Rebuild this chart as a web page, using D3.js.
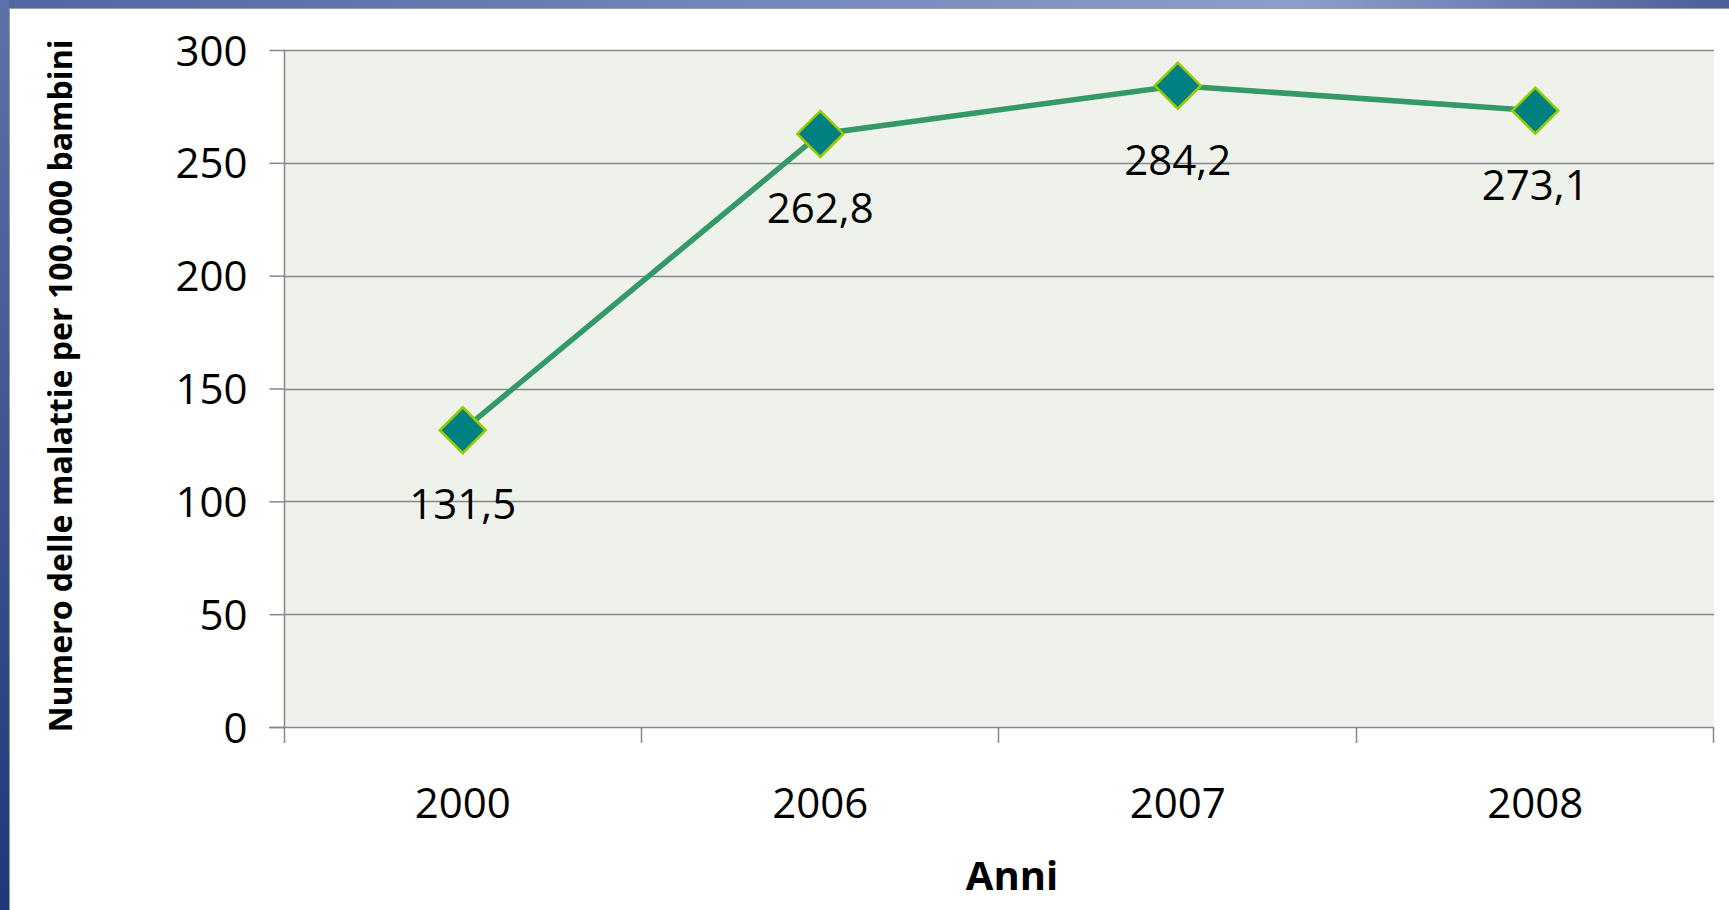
<!DOCTYPE html>
<html>
<head>
<meta charset="utf-8">
<script src="https://cdnjs.cloudflare.com/ajax/libs/d3/7.8.5/d3.min.js"></script>
<style>
  body { margin: 0; background: #fff; overflow: hidden; }
  text { font-family: "Open Sans", sans-serif; fill: #000; }
</style>
</head>
<body>
<script>
// data
var years = ["2000", "2006", "2007", "2008"];
var values = [131.5, 262.8, 284.2, 273.1];
var labels = ["131,5", "262,8", "284,2", "273,1"];
var yTicks = [0, 50, 100, 150, 200, 250, 300];

var width = 1729, height = 910;
var plot = { left: 284, right: 1714, top: 50, bottom: 727 };

var svg = d3.select("body").append("svg")
    .attr("width", width)
    .attr("height", height);

// slide frame gradients
var defs = svg.append("defs");
var gTop = defs.append("linearGradient").attr("id", "topbar")
    .attr("x1", "0").attr("x2", "1").attr("y1", "0").attr("y2", "0");
gTop.append("stop").attr("offset", "0").attr("stop-color", "#4f68a2");
gTop.append("stop").attr("offset", "0.75").attr("stop-color", "#8c9ecb");
gTop.append("stop").attr("offset", "1").attr("stop-color", "#4b5f98");

var gLeft = defs.append("linearGradient").attr("id", "leftbar")
    .attr("x1", "0").attr("x2", "0").attr("y1", "0").attr("y2", "1");
gLeft.append("stop").attr("offset", "0").attr("stop-color", "#5d73a8");
gLeft.append("stop").attr("offset", "1").attr("stop-color", "#1f3878");

svg.append("rect").attr("x", 0).attr("y", 0).attr("width", width).attr("height", 8)
    .attr("fill", "url(#topbar)");
svg.append("rect").attr("x", 0).attr("y", 0).attr("width", 9).attr("height", height)
    .attr("fill", "url(#leftbar)");
svg.append("line").attr("x1", 9).attr("x2", width).attr("y1", 8.5).attr("y2", 8.5)
    .attr("stroke", "#9a9a9a").attr("stroke-width", 1);
svg.append("line").attr("x1", 9.5).attr("x2", 9.5).attr("y1", 8).attr("y2", height)
    .attr("stroke", "#9a9a9a").attr("stroke-width", 1);

// scales
var x = d3.scaleBand().domain(years).range([plot.left, plot.right]);
var y = d3.scaleLinear().domain([0, 300]).range([plot.bottom, plot.top]);

// plot area background
svg.append("rect")
    .attr("x", plot.left).attr("y", plot.top)
    .attr("width", plot.right - plot.left).attr("height", plot.bottom - plot.top)
    .attr("fill", "#eff2ea");

// gridlines
svg.append("g").selectAll("line")
    .data(yTicks.slice(1))
    .enter().append("line")
    .attr("x1", plot.left).attr("x2", plot.right)
    .attr("y1", function(d) { return Math.round(y(d)) + 0.5; })
    .attr("y2", function(d) { return Math.round(y(d)) + 0.5; })
    .attr("stroke", "#878787").attr("stroke-width", 1.5);

// y axis
var yAxis = svg.append("g")
    .attr("transform", "translate(" + (plot.left + 0.5) + ",0)")
    .call(d3.axisLeft(y).tickValues(yTicks).tickSize(15).tickPadding(22));
yAxis.select(".domain").attr("stroke", "#878787").attr("stroke-width", 1.5)
    .attr("d", "M0," + plot.top + "V" + (plot.bottom + 16));
yAxis.selectAll(".tick line").attr("stroke", "#878787").attr("stroke-width", 1.5);
yAxis.selectAll(".tick text")
    .style("font-family", "'Open Sans', sans-serif")
    .style("font-size", "42px")
    .attr("dy", "0.36em")
    .attr("fill", "#000");

// x axis
var xAxis = svg.append("g")
    .attr("transform", "translate(0," + (plot.bottom + 0.5) + ")")
    .call(d3.axisBottom(x).tickSize(0).tickPadding(61));
xAxis.select(".domain").attr("stroke", "#878787").attr("stroke-width", 1.5)
    .attr("d", "M" + (plot.left - 15) + ",0H" + plot.right);
xAxis.selectAll(".tick text")
    .style("font-family", "'Open Sans', sans-serif")
    .style("font-size", "42px")
    .attr("fill", "#000");

// category separator ticks
var seps = years.map(function(d) { return x(d); }).concat([plot.right]);
svg.append("g").selectAll("line")
    .data(seps.slice(1))
    .enter().append("line")
    .attr("x1", function(d) { return Math.round(d) - 0.5; })
    .attr("x2", function(d) { return Math.round(d) - 0.5; })
    .attr("y1", plot.bottom).attr("y2", plot.bottom + 16)
    .attr("stroke", "#878787").attr("stroke-width", 1.5);

// line
var line = d3.line()
    .x(function(d, i) { return x(years[i]) + x.bandwidth() / 2; })
    .y(function(d) { return y(d); });

svg.append("path")
    .datum(values)
    .attr("d", line)
    .attr("fill", "none")
    .attr("stroke", "#339966")
    .attr("stroke-width", 5.5);

// diamond markers
svg.append("g").selectAll("path")
    .data(values)
    .enter().append("path")
    .attr("transform", function(d, i) {
        return "translate(" + (x(years[i]) + x.bandwidth() / 2) + "," + y(d) + ")";
    })
    .attr("d", "M0,-23L23,0L0,23L-23,0Z")
    .attr("fill", "#008080")
    .attr("stroke", "#99cc00")
    .attr("stroke-width", 2.5);

// data labels
svg.append("g").selectAll("text")
    .data(values)
    .enter().append("text")
    .attr("x", function(d, i) { return x(years[i]) + x.bandwidth() / 2; })
    .attr("y", function(d) { return y(d) + 89; })
    .attr("text-anchor", "middle")
    .style("font-size", "42px")
    .text(function(d, i) { return labels[i]; });

// axis titles
svg.append("text")
    .attr("x", 1012).attr("y", 890)
    .attr("text-anchor", "middle")
    .style("font-size", "40px")
    .style("font-weight", "bold")
    .text("Anni");

svg.append("text")
    .attr("transform", "translate(72,386) rotate(-90)")
    .attr("text-anchor", "middle")
    .attr("textLength", 693)
    .attr("lengthAdjust", "spacingAndGlyphs")
    .style("font-size", "33px")
    .style("font-weight", "bold")
    .text("Numero delle malattie per 100.000 bambini");
</script>
</body>
</html>
